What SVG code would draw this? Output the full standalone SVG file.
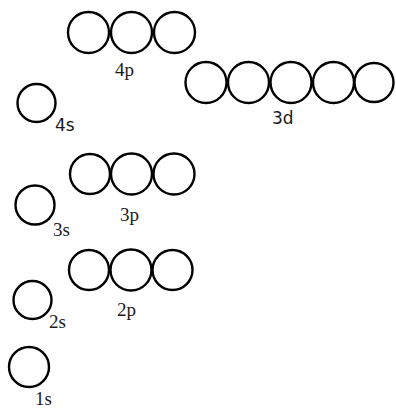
<svg xmlns="http://www.w3.org/2000/svg" width="396" height="408" viewBox="0 0 396 408">
<style>
.o{fill:#fff;stroke:#000;stroke-width:2.4}
.s{font-family:"Liberation Serif","Times New Roman",serif;font-size:19px;fill:#1a1a1a}
.a{font-family:"DejaVu Sans",Verdana,sans-serif;font-size:17px;fill:#1a1a1a}
</style>
<rect width="396" height="408" fill="#fff"/>
<g id="orb4p">
<circle class="o" cx="88.5" cy="32.5" r="20.5"/>
<circle class="o" cx="131.5" cy="32.5" r="20.5"/>
<circle class="o" cx="174.5" cy="32.5" r="20.5"/>
<text class="s" x="115" y="76">4p</text>
</g>
<g id="orb3d">
<circle class="o" cx="206" cy="82.5" r="20.5"/>
<circle class="o" cx="248.5" cy="82.5" r="20.5"/>
<circle class="o" cx="291" cy="82.5" r="20.5"/>
<circle class="o" cx="333.5" cy="82.5" r="20.5"/>
<circle class="o" cx="374" cy="82.5" r="19.5"/>
<text class="a" x="272" y="124">3d</text>
</g>
<g id="orb4s">
<circle class="o" cx="36.5" cy="103" r="19"/>
<text class="a" x="55" y="131">4s</text>
</g>
<g id="orb3p">
<circle class="o" cx="90" cy="174" r="20"/>
<circle class="o" cx="131.5" cy="174" r="20.5"/>
<circle class="o" cx="174" cy="174" r="20.5"/>
<text class="s" x="120" y="221">3p</text>
</g>
<g id="orb3s">
<circle class="o" cx="35" cy="205" r="19.5"/>
<text class="s" x="53" y="236">3s</text>
</g>
<g id="orb2p">
<circle class="o" cx="89" cy="270" r="20"/>
<circle class="o" cx="131" cy="270" r="20.5"/>
<circle class="o" cx="172.5" cy="270" r="20"/>
<text class="s" x="117" y="316">2p</text>
</g>
<g id="orb2s">
<circle class="o" cx="32.5" cy="300" r="19"/>
<text class="s" x="49" y="328">2s</text>
</g>
<g id="orb1s">
<circle class="o" cx="29" cy="367" r="20"/>
<text class="s" x="35" y="405">1s</text>
</g>
<g id="connectors"/>
</svg>
